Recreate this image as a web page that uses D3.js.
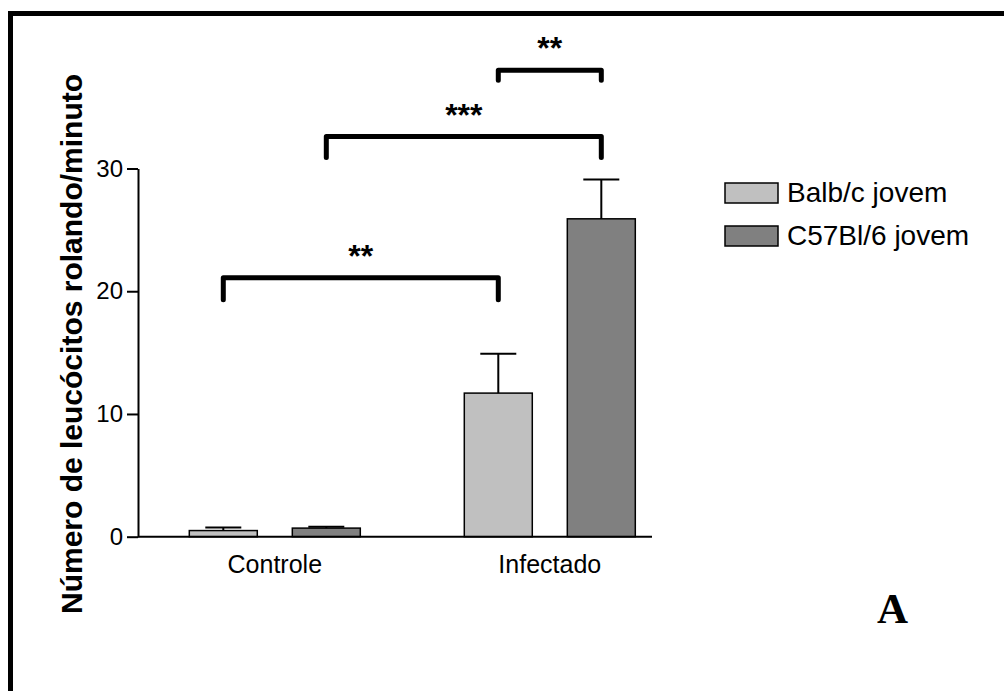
<!DOCTYPE html>
<html>
<head>
<meta charset="utf-8">
<script src="https://cdn.jsdelivr.net/npm/d3@7"></script>
<style>
  body { margin: 0; background: #fff; }
  svg { display: block; font-family: "Liberation Sans", Arial, sans-serif; }
</style>
</head>
<body>
<svg id="chart" width="1004" height="691"></svg>
<script>
// data
const groups = ["Controle", "Infectado"]
const series = ["Balb/c jovem", "C57Bl/6 jovem"]
const seriesColors = ["#c0c0c0", "#808080"]
const means = [[0.5, 0.7], [11.7, 25.9]]
const errors = [[0.25, 0.12], [3.2, 3.2]]
const yTicks = [0, 10, 20, 30]
// significance brackets: [group, series] pairs, bracket height, leg end, label
const brackets = [
    { from: [0, 0], to: [1, 0], y: 21.1, leg: 19.3, label: "**" },
    { from: [0, 1], to: [1, 1], y: 32.6, leg: 30.9, label: "***" },
    { from: [1, 0], to: [1, 1], y: 38.0, leg: 37.2, label: "**" },
]

const svg = d3.select("#chart")

// frame around the panel (runs off right/bottom)
svg.append("path")
    .attr("d", "M10.5,700 L10.5,13.5 L1010,13.5")
    .attr("fill", "none")
    .attr("stroke", "#000")
    .attr("stroke-width", 5)

const y = d3.scaleLinear().domain([0, 30]).range([536.7, 168.5])
const x0 = d3.scaleBand().domain(groups).range([137.3, 687.3])
const x1 = d3.scaleBand().domain(series).range([-85.5, 85.5]).paddingInner(0.34)
const cx = (g, s) => x0(groups[g]) + x0.bandwidth() / 2 + x1(series[s]) + x1.bandwidth() / 2

const rows = []
groups.forEach((g, gi) => series.forEach((s, si) => {
    rows.push({ g: gi, s: si, value: means[gi][si], err: errors[gi][si] })
}))

// y axis
const yAxis = svg.append("g")
    .attr("transform", "translate(138,0)")
    .call(d3.axisLeft(y).tickValues(yTicks).tickSize(11).tickSizeOuter(0).tickPadding(4))
yAxis.select(".domain").attr("stroke-width", 2)
yAxis.selectAll(".tick line").attr("stroke-width", 2)
yAxis.selectAll(".tick text")
    .attr("font-size", 24)
    .attr("fill", "#000")
    .attr("font-family", "Liberation Sans, Arial, sans-serif")

// bars
svg.append("g").selectAll("rect").data(rows).join("rect")
    .attr("x", d => cx(d.g, d.s) - x1.bandwidth() / 2)
    .attr("y", d => y(d.value))
    .attr("width", x1.bandwidth())
    .attr("height", d => y(0) - y(d.value))
    .attr("fill", d => seriesColors[d.s])
    .attr("stroke", "#000")
    .attr("stroke-width", 1.5)

// error bars (upper only)
const eb = svg.append("g").attr("stroke", "#000").attr("stroke-width", 2)
eb.selectAll("line.stem").data(rows).join("line")
    .attr("class", "stem")
    .attr("x1", d => cx(d.g, d.s)).attr("x2", d => cx(d.g, d.s))
    .attr("y1", d => y(d.value)).attr("y2", d => y(d.value + d.err))
eb.selectAll("line.cap").data(rows).join("line")
    .attr("class", "cap")
    .attr("x1", d => cx(d.g, d.s) - 18).attr("x2", d => cx(d.g, d.s) + 18)
    .attr("y1", d => y(d.value + d.err)).attr("y2", d => y(d.value + d.err))

// x axis line
svg.append("line")
    .attr("x1", 138).attr("x2", 652)
    .attr("y1", y(0)).attr("y2", y(0))
    .attr("stroke", "#000").attr("stroke-width", 2)

svg.append("g").selectAll("text").data(groups).join("text")
    .attr("x", d => x0(d) + x0.bandwidth() / 2)
    .attr("y", 573)
    .attr("text-anchor", "middle")
    .attr("font-size", 25)
    .text(d => d)

// y title
svg.append("text")
    .attr("transform", "translate(82,344) rotate(-90)")
    .attr("text-anchor", "middle")
    .attr("font-size", 30)
    .attr("font-weight", "bold")
    .text("Número de leucócitos rolando/minuto")

// significance brackets
const br = svg.append("g")
br.selectAll("path").data(brackets).join("path")
    .attr("d", d => {
        const xa = cx(d.from[0], d.from[1]), xb = cx(d.to[0], d.to[1])
        return `M${xa},${y(d.leg)} L${xa},${y(d.y)} L${xb},${y(d.y)} L${xb},${y(d.leg)}`
    })
    .attr("fill", "none")
    .attr("stroke", "#000")
    .attr("stroke-width", 5)
    .attr("stroke-linecap", "round")
    .attr("stroke-linejoin", "round")
br.selectAll("text").data(brackets).join("text")
    .attr("x", d => (cx(d.from[0], d.from[1]) + cx(d.to[0], d.to[1])) / 2)
    .attr("y", d => y(d.y) - 11)
    .attr("text-anchor", "middle")
    .attr("font-size", 32)
    .attr("font-weight", "bold")
    .text(d => d.label)

// legend
const lg = svg.append("g").selectAll("g").data(series).join("g")
    .attr("transform", (d, i) => `translate(725,${183 + i * 43})`)
lg.append("rect")
    .attr("width", 53).attr("height", 20)
    .attr("fill", (d, i) => seriesColors[i])
    .attr("stroke", "#000").attr("stroke-width", 1.5)
lg.append("text")
    .attr("x", 62).attr("y", 19)
    .attr("font-size", 28)
    .text(d => d)

// panel letter
svg.append("text")
    .attr("x", 892.5).attr("y", 623)
    .attr("text-anchor", "middle")
    .style("font-family", "'Liberation Serif', 'Times New Roman', serif")
    .attr("font-weight", "bold")
    .attr("font-size", 43)
    .text("A")
</script>
</body>
</html>
